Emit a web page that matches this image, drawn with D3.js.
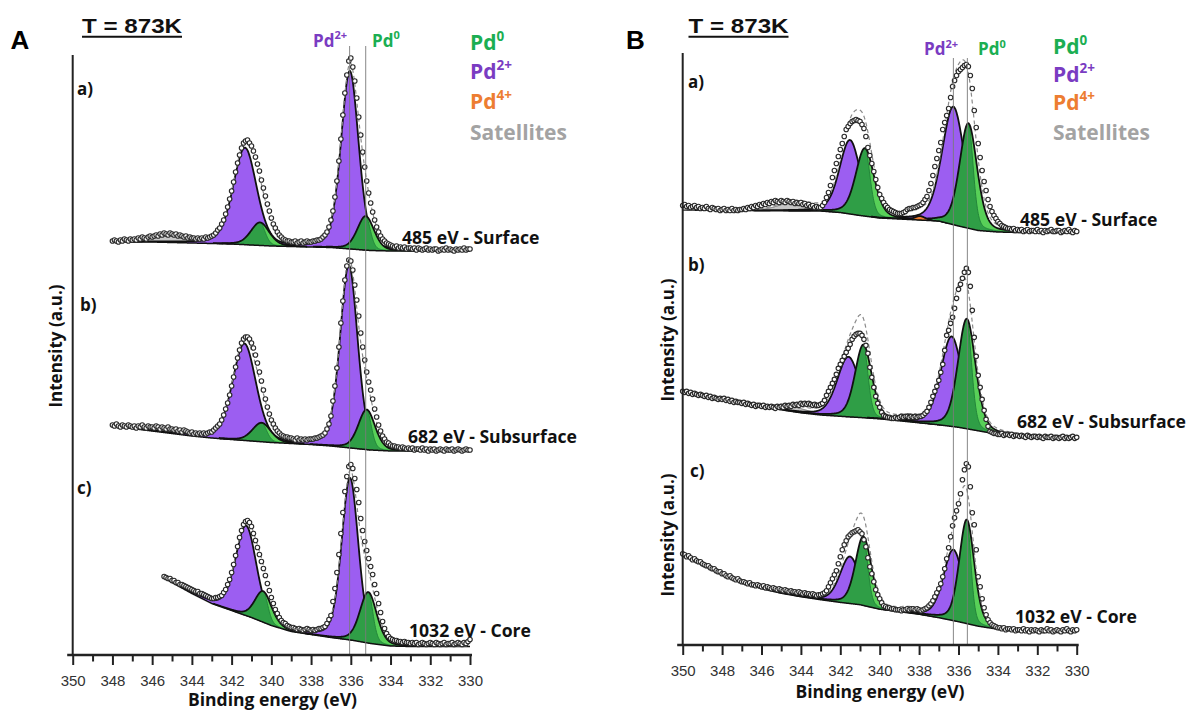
<!DOCTYPE html>
<html>
<head>
<meta charset="utf-8">
<script src="https://cdn.jsdelivr.net/npm/d3@7"></script>
<style>
  body { margin: 0; background: #fff; }
  svg { display: block; }
</style>
</head>
<body>
<svg id="chart" width="1187" height="711"></svg>
<script>
// ---------------------------------------------------------------
// Pd 3d XPS spectra at T = 873 K, three photon energies per panel.
// Intensities are in arbitrary units above each spectrum's own
// baseline; spectra are stacked with a vertical offset.
// ---------------------------------------------------------------

// Binding-energy tick values
const majorTicks = [350, 348, 346, 344, 342, 340, 338, 336, 334, 332, 330];
const minorTicks = [349, 347, 345, 343, 341, 339, 337, 335, 333, 331];

// Background anchors, one value per eV from 350 down to 330
const bgEnergy = d3.range(350, 329, -1);
const bgAa = [10, 10, 9.5, 9, 9, 8.5, 8, 7.5, 7, 6, 5, 4.5, 4, 3.5, 2, 0.5, 0, 0, 0, 0, 0];
const bgAb = [30, 27.5, 25, 22.5, 20, 17.5, 15, 13, 11.5, 10, 8.5, 7.5, 6.5, 5, 3, 1, 0, 0, 0, 0, 0];
const bgAc = [120, 105, 95, 85, 76, 64, 53, 43, 36, 29, 21, 15, 12, 9, 6.5, 3, 0.5, 0, 0, 0, 0];
const bgBa = [22.5, 22.3, 22.1, 22, 21.8, 21.7, 21.5, 21.5, 20, 17, 14.5, 13.5, 12.5, 11.5, 6.5, 2, 0.5, 0, 0, 0, 0];
const bgBb = [46.5, 43, 39.5, 36, 32, 28.5, 25.5, 23.3, 22, 20.8, 19.5, 17.5, 15.5, 13.5, 11, 7.5, 4, 2.5, 1.5, 0.7, 0];
const bgBc = [77, 67, 58, 49.5, 43, 38.5, 35, 32, 29.3, 27, 22.5, 20, 17.5, 14, 10, 5.5, 2.5, 1.2, 0.6, 0.2, 0];

// Fitted components: [species, position (eV), height, FWHM (eV)]
const peaksAa = [["sat", 345.2, 7, 2.4], ["pd2", 341.33, 97, 1.4], ["pd0", 340.57, 23, 1.1], ["pd2", 336.05, 178, 1.05], ["pd0", 335.25, 34, 1.0]];
const peaksAb = [["sat", 345.5, 4, 2.5], ["pd2", 341.36, 97, 1.4], ["pd0", 340.49, 19, 1.1], ["pd2", 336.1, 182.5, 1.05], ["pd0", 335.2, 40, 1.0]];
const peaksAc = [["sat", 344.0, 3, 2.0], ["pd2", 341.27, 90, 1.25], ["pd0", 340.41, 31, 1.0], ["pd2", 336.04, 162, 1.0], ["pd0", 335.12, 51, 1.0]];
const peaksBa = [["sat", 344.3, 9, 1.9], ["pd2", 341.51, 74, 1.25], ["pd0", 340.75, 68, 1.1], ["sat", 338.6, 3, 0.9], ["pd4", 337.95, 4, 0.6], ["pd2", 336.26, 118, 1.35], ["pd0", 335.5, 105, 1.05]];
const peaksBb = [["sat", 344.5, 5, 2.0], ["pd2", 341.59, 60, 1.35], ["pd0", 340.83, 73, 1.0], ["sat", 338.5, 3, 1.0], ["pd2", 336.35, 90, 1.3], ["pd0", 335.58, 110, 1.05]];
const peaksBc = [["sat", 344.5, 4, 2.0], ["pd2", 341.51, 47, 1.2], ["pd0", 340.83, 69, 0.95], ["sat", 338.5, 3, 1.0], ["pd2", 336.26, 71, 1.2], ["pd0", 335.58, 104, 0.9]];

// Measured points, 0.1 eV apart, from the first energy down to 330 eV
const startAa = 348.0;
const dataAa = [
  10, 11, 10, 9, 11, 10, 12, 11, 10, 12, 11,            // 348.0-347.0
  12, 11, 13, 12, 14, 13, 12, 14, 15, 14,               // 346.9-346.0
  15, 16, 15, 17, 16, 18, 17, 16, 18, 17,               // 345.9-345.0
  16, 17, 15, 16, 15, 14, 15, 13, 14, 13,               // 344.9-344.0
  13, 12, 13, 12, 13, 12, 14, 13, 14, 15,               // 343.9-343.0
  16, 18, 21, 23, 27, 31, 37, 44, 52, 60,               // 342.9-342.0
  69, 79, 88, 96, 103, 108, 110, 111, 108, 105,         // 341.9-341.0
  100, 94, 87, 80, 71, 63, 55, 47, 40, 33,              // 340.9-340.0
  27, 23, 19, 16, 14, 12, 11, 10, 10, 9,                // 339.9-339.0
  9, 10, 8, 9, 10, 8, 9, 10, 9, 9,                      // 338.9-338.0
  10, 10, 11, 11, 12, 14, 16, 19, 24, 31,               // 337.9-337.0
  40, 54, 70, 90, 112, 136, 158, 176, 190, 193,         // 336.9-336.0
  184, 170, 153, 134, 116, 99, 84, 70, 58, 48,          // 335.9-335.0
  39, 31, 24, 19, 15, 12, 10, 8, 7, 6,                  // 334.9-334.0
  5, 4, 5, 3, 4, 3, 4, 2, 3, 3,                         // 333.9-333.0
  2, 3, 1, 3, 2, 1, 2, 3, 1, 2,
  1, 2, 2, 0, 1, 2, 1, 3, 1, 2,
  1, 0, 2, 1, 2, 1, 3, 1, 2, 2                          // 330.9-330.0
];
const startAb = 348.0;
const dataAb = [
  26, 25, 27, 25, 24, 26, 25, 24, 26, 25, 24,
  25, 23, 25, 24, 26, 24, 23, 25, 24, 24,
  23, 25, 24, 22, 24, 23, 22, 24, 22, 22,
  21, 22, 20, 21, 19, 21, 20, 19, 18, 19,
  17, 18, 17, 18, 17, 18, 17, 18, 19, 19,
  21, 23, 25, 27, 31, 36, 42, 48, 56, 65,
  74, 84, 93, 101, 108, 112, 114, 114, 112, 108,
  103, 96, 88, 79, 70, 61, 52, 44, 37, 31,
  27, 23, 20, 18, 16, 15, 14, 14, 13, 13,
  12, 11, 13, 11, 12, 11, 12, 11, 12, 12,
  12, 13, 13, 14, 15, 16, 18, 22, 27, 35,
  50, 65, 83, 104, 128, 150, 171, 185, 191, 190,
  181, 166, 151, 135, 118, 104, 91, 79, 69, 61,
  52, 42, 34, 26, 20, 15, 12, 9, 8, 6,
  5, 5, 4, 4, 3, 4, 3, 2, 3, 2,
  3, 1, 2, 2, 1, 3, 1, 2, 0, 2,
  1, 2, 0, 1, 2, 1, 0, 2, 1, 1,
  2, 0, 1, 2, 1, 0, 1, 2, 1, 1
];
const startAc = 345.4;
const dataAc = [
  70, 69, 68, 68, 66,                                   // 345.4-345.0
  66, 64, 64, 62, 62, 61, 60, 59, 58, 57,
  56, 55, 55, 53, 53, 52, 51, 50, 49, 48,
  48, 49, 49, 50, 51, 54, 57, 62, 67, 74,
  82, 91, 100, 109, 116, 122, 125, 126, 124, 120,
  113, 106, 99, 92, 85, 78, 71, 63, 56, 49,
  43, 37, 33, 29, 26, 24, 23, 21, 20, 19,
  19, 18, 17, 18, 17, 16, 17, 18, 17, 16,
  17, 16, 17, 18, 18, 19, 20, 23, 27, 31,
  45, 58, 74, 92, 113, 134, 155, 170, 180, 182,
  178, 168, 157, 144, 128, 116, 105, 96, 88, 80,
  72, 62, 53, 43, 34, 25, 18, 13, 10, 8,
  7, 6, 6, 5, 5, 4, 5, 4, 4, 3,
  4, 3, 4, 2, 3, 4, 3, 2, 3, 4,
  3, 2, 4, 3, 2, 3, 4, 2, 3, 3,
  4, 2, 3, 4, 3, 2, 4, 3, 5, 7
];
const startBa = 350.0;
const dataBa = [
  27, 28, 26, 27, 25, 26, 27, 25, 26, 24,               // 350.0-349.1
  25, 24, 26, 24, 23, 25, 24, 23, 24, 22,
  23, 24, 22, 23, 22, 24, 22, 23, 22, 23,
  23, 24, 23, 25, 24, 26, 25, 27, 26, 28,
  27, 29, 28, 30, 29, 31, 30, 32, 31, 30,
  32, 31, 30, 32, 31, 30, 31, 29, 30, 29,
  30, 28, 29, 27, 28, 26, 27, 25, 26, 25,
  25,                                                   // 343.0
  27, 30, 35, 40, 47, 55, 62, 69, 76, 83,
  89, 96, 103, 106, 109, 111, 112, 113, 112, 111,
  108, 104, 96, 85, 77, 69, 61, 53, 45, 38,
  34, 30, 27, 25, 23, 22, 21, 20, 19, 19,
  19, 20, 21, 23, 24, 24, 25, 25, 26, 27,
  28, 30, 33, 36, 42, 49, 57, 66, 74, 82,
  90, 103, 110, 117, 124, 135, 146, 152, 157, 161,
  163, 165, 167, 168, 166, 157, 144, 122, 105, 89,
  75, 62, 51, 42, 33, 26, 21, 17, 14, 11,
  9, 7, 6, 5, 4, 4, 3, 4, 2, 3,
  2, 3, 1, 2, 3, 1, 2, 2, 1, 3,
  1, 2, 0, 2, 1, 2, 3, 1, 1, 2,
  2, 0, 1, 2, 1, 3, 1, 0, 2, 1
];
const startBb = 350.0;
const dataBb = [
  47, 46, 47, 45, 46, 44, 45, 44, 43, 44,
  43, 42, 43, 41, 42, 40, 41, 40, 39, 40,
  39, 40, 38, 39, 37, 38, 36, 37, 36, 36,
  35, 36, 34, 35, 34, 33, 34, 32, 33, 33,
  32, 33, 31, 32, 31, 32, 31, 30, 32, 31,
  32, 31, 33, 32, 33, 32, 34, 33, 34, 33,
  35, 34, 35, 34, 35, 34, 33, 34, 33, 33,
  34,
  35, 38, 43, 47, 51, 55, 59, 64, 70, 74,
  78, 82, 86, 90, 94, 99, 102, 104, 105, 105,
  103, 99, 93, 85, 71, 61, 51, 42, 35, 31,
  26, 23, 22, 21, 21, 20, 20, 21, 20, 21,
  22, 21, 22, 22, 21, 22, 21, 22, 21, 22,
  22, 23, 25, 27, 31, 36, 42, 47, 52, 58,
  66, 74, 88, 103, 108, 115, 121, 130, 140, 149,
  154, 160, 166, 170, 166, 152, 128, 101, 82, 63,
  51, 39, 28, 19, 12, 7, 6, 5, 5, 4,
  4, 5, 3, 4, 4, 3, 4, 2, 3, 3,
  2, 3, 2, 1, 3, 2, 1, 2, 2, 1,
  2, 1, 0, 2, 1, 1, 2, 0, 1, 1,
  0, 1, 2, 0, 1, 0, 1, 2, 0, 1
];
const startBc = 350.0;
const dataBc = [
  78, 77, 75, 76, 74, 72, 73, 71, 70, 70,
  68, 67, 66, 66, 64, 63, 63, 61, 60, 60,
  58, 58, 56, 55, 56, 54, 53, 52, 53, 51,
  50, 50, 49, 48, 49, 47, 47, 46, 47, 46,
  45, 46, 44, 45, 44, 43, 44, 43, 42, 43,
  42, 41, 42, 41, 40, 41, 40, 40, 39, 40,
  39, 38, 39, 38, 38, 37, 38, 37, 36, 37,
  37,
  38, 39, 41, 45, 49, 53, 57, 61, 68, 75,
  82, 87, 91, 95, 97, 99, 100, 101, 102, 100,
  98, 92, 85, 74, 65, 58, 50, 42, 37, 33,
  29, 26, 25, 24, 24, 23, 23, 22, 22, 22,
  21, 22, 22, 23, 22, 23, 23, 22, 23, 22,
  21, 22, 23, 24, 26, 28, 31, 35, 39, 43,
  48, 55, 63, 73, 84, 95, 106, 114, 121, 128,
  138, 152, 162, 168, 165, 145, 119, 107, 82, 55,
  45, 33, 24, 17, 12, 9, 7, 6, 5, 4,
  4, 3, 4, 2, 3, 3, 2, 3, 1, 2,
  2, 1, 3, 1, 2, 0, 2, 1, 2, 1,
  0, 2, 1, 1, 3, 1, 2, 0, 1, 2,
  1, 0, 2, 1, 3, 1, 0, 2, 1, 2
];

// Vertical stacking offsets of the three spectra in each panel
const offsetsA = [404, 204, 8.5];
const offsetsB = [412.5, 206.7, 13.3];

const spectrumLabels = ["485 eV - Surface", "682 eV - Subsurface", "1032 eV - Core"];
const depthLetters = ["a)", "b)", "c)"];

// ---------------------------------------------------------------
const svg = d3.select("#chart");
const SANS = "'Open Sans', 'DejaVu Sans', sans-serif";
const ARIAL = "'Liberation Sans', Arial, sans-serif";

const COLORS = {
  sat: "#c6c6c6", pd2: "#9c5ef1", pd0Light: "#58d058", pd0Dark: "#2f9e46",
  pd4: "#ee7d2f", txtPd0: "#1bae52", txtPd2: "#7a3cc2", txtPd4: "#ed7d31", txtSat: "#a3a3a3"
};

// Pseudo-Voigt (GL30) line shape; wRight narrows the low-BE side
function pv(e, c, h, w, wRight) {
  const width = (e < c && wRight !== undefined) ? wRight : w;
  const u = (e - c) / width;
  return h * (0.3 / (1 + 4 * u * u) + 0.7 * Math.exp(-4 * Math.LN2 * u * u));
}

function drawSpectrum(g, xs, ys, start, data, bgVals, peaks, offset) {
  const bg = d3.scaleLinear().domain(bgEnergy).range(bgVals);
  const base = e => offset + bg(e);
  const grid = d3.range(Math.round(start * 50), 330 * 50 - 1, -1).map(k => k / 50);

  const drawOrder = ["sat", "pd2", "pd0", "pd4"];
  drawOrder.forEach(type => {
    peaks.filter(p => p[0] === type).forEach(([t, c, h, w]) => {
      const seg = grid.filter(e => pv(e, c, h, w) > 0.35);
      const top = e => ys(base(e) + pv(e, c, h, w));
      const area = d3.area().x(e => xs(e)).y0(e => ys(base(e))).y1(top);
      const line = d3.line().x(e => xs(e)).y(top);
      if (t === "pd0") {
        g.append("path").attr("d", area(seg)).attr("fill", COLORS.pd0Light);
        const topDark = e => ys(base(e) + pv(e, c, h, w, w * 0.55));
        g.append("path")
          .attr("d", d3.area().x(e => xs(e)).y0(e => ys(base(e))).y1(topDark)(seg))
          .attr("fill", COLORS.pd0Dark);
        g.append("path")
          .attr("d", d3.line().x(e => xs(e)).y(topDark)(seg.filter(e => e <= c)))
          .attr("fill", "none").attr("stroke", "#23863a").attr("stroke-width", 1);
        g.append("path").attr("d", line(seg)).attr("fill", "none")
          .attr("stroke", "#111").attr("stroke-width", 1.8);
      } else if (t === "sat") {
        g.append("path").attr("d", area(seg)).attr("fill", COLORS.sat);
        g.append("path").attr("d", line(seg)).attr("fill", "none")
          .attr("stroke", "#666").attr("stroke-width", 0.9);
      } else {
        g.append("path").attr("d", area(seg)).attr("fill", COLORS[t]);
        g.append("path").attr("d", line(seg)).attr("fill", "none")
          .attr("stroke", "#111").attr("stroke-width", 1.8);
      }
    });
  });

  // background
  g.append("path")
    .attr("d", d3.line().x(e => xs(e)).y(e => ys(base(e)))(grid))
    .attr("fill", "none").attr("stroke", "#111").attr("stroke-width", 1.5);

  // envelope (sum of components)
  const env = e => base(e) + d3.sum(peaks, p => pv(e, p[1], p[2], p[3]));
  g.append("path")
    .attr("d", d3.line().x(e => xs(e)).y(e => ys(env(e)))(grid))
    .attr("fill", "none").attr("stroke", "#8a8a8a").attr("stroke-width", 1.2)
    .attr("stroke-dasharray", "4,3");

  // measured points
  const pts = data.map((v, i) => ({ e: (Math.round(start * 10) - i) / 10, v }));
  g.selectAll(null).data(pts).enter().append("circle")
    .attr("cx", d => xs(d.e)).attr("cy", d => ys(offset + d.v))
    .attr("r", 2.25).attr("fill", "#fff").attr("stroke", "#2a2a2a").attr("stroke-width", 1.15);
}

function supText(g, x, y, main, sup, color, size, supSize, anchor) {
  const t = g.append("text").attr("x", x).attr("y", y)
    .attr("font-family", SANS).attr("font-weight", 700).attr("font-size", size)
    .attr("fill", color).attr("text-anchor", anchor || "start");
  t.append("tspan").text(main);
  if (sup) t.append("tspan").attr("font-size", supSize).attr("dy", -size * 0.42).text(sup);
  return t;
}

function drawPanel(cfg) {
  const g = svg.append("g");
  const xs = d3.scaleLinear().domain([350, 330]).range([cfg.x0, cfg.x1]);
  const ys = d3.scaleLinear().domain([0, cfg.yMax]).range([cfg.axisY, cfg.axisY - cfg.yMax]);

  cfg.spectra.forEach((s, i) => drawSpectrum(g, xs, ys, s.start, s.data, s.bg, s.peaks, cfg.offsets[i]));

  // reference lines at the Pd2+ and Pd0 3d5/2 positions
  cfg.refLines.forEach(e => {
    g.append("line").attr("x1", xs(e)).attr("x2", xs(e))
      .attr("y1", cfg.refTop).attr("y2", cfg.axisY - 1)
      .attr("stroke", "#7a7a7a").attr("stroke-width", 0.9);
  });

  // axes
  g.append("line").attr("x1", xs(350)).attr("x2", xs(350))
    .attr("y1", ys(cfg.yMax)).attr("y2", cfg.axisY)
    .attr("stroke", "#222").attr("stroke-width", 2);
  g.append("line").attr("x1", xs(350) - 5.5).attr("x2", xs(330) + 2)
    .attr("y1", cfg.axisY).attr("y2", cfg.axisY)
    .attr("stroke", "#222").attr("stroke-width", 2.6);

  const major = g.append("g").attr("transform", `translate(0,${cfg.axisY})`)
    .call(d3.axisBottom(xs).tickValues(majorTicks).tickSize(10).tickPadding(10).tickFormat(d3.format("d")));
  const minor = g.append("g").attr("transform", `translate(0,${cfg.axisY})`)
    .call(d3.axisBottom(xs).tickValues(minorTicks).tickSize(6.5).tickFormat(""));
  [major, minor].forEach(a => {
    a.select(".domain").remove();
    a.selectAll(".tick line").attr("stroke", "#222").attr("stroke-width", 2);
  });
  major.selectAll(".tick text").attr("font-family", ARIAL).attr("font-size", 15).attr("fill", "#333");

  g.append("text").attr("x", cfg.xTitle).attr("y", cfg.titleY)
    .attr("text-anchor", "middle").attr("font-family", SANS).attr("font-weight", 700)
    .attr("font-size", 17.5).attr("fill", "#111").text("Binding energy (eV)");

  cfg.yTitles.forEach(([xp, yp]) => {
    g.append("text").attr("transform", `translate(${xp},${yp}) rotate(-90)`)
      .attr("text-anchor", "middle").attr("dominant-baseline", "central")
      .attr("font-family", SANS).attr("font-weight", 700).attr("font-size", 17)
      .attr("fill", "#111").text("Intensity (a.u.)");
  });

  // panel letter and temperature
  g.append("text").attr("x", cfg.letterX).attr("y", 48.5).attr("font-family", ARIAL)
    .attr("font-weight", 700).attr("font-size", 26).attr("fill", "#000").text(cfg.letter);
  g.append("text").attr("x", cfg.titleX).attr("y", 33.3).attr("font-family", ARIAL)
    .attr("font-weight", 700).attr("font-size", 20).attr("fill", "#111")
    .attr("textLength", 100).attr("lengthAdjust", "spacingAndGlyphs").text("T = 873K");
  g.append("line").attr("x1", cfg.titleX).attr("x2", cfg.titleX + 100)
    .attr("y1", 36.8).attr("y2", 36.8).attr("stroke", "#111").attr("stroke-width", 2);

  // depth letters and photon-energy labels
  cfg.letters.forEach(([xp, yp], i) => {
    g.append("text").attr("x", xp).attr("y", yp).attr("font-family", SANS)
      .attr("font-weight", 700).attr("font-size", 17).attr("fill", "#111").text(depthLetters[i]);
  });
  cfg.labels.forEach(([xp, yp], i) => {
    g.append("text").attr("x", xp).attr("y", yp).attr("font-family", SANS)
      .attr("font-weight", 700).attr("font-size", 17.6).attr("fill", "#111").text(spectrumLabels[i]);
  });

  // labels above the reference lines
  supText(g, cfg.pdLabel[0], cfg.pdLabel[2], "Pd", "2+", COLORS.txtPd2, 17, 11, "end");
  supText(g, cfg.pdLabel[1], cfg.pdLabel[2], "Pd", "0", COLORS.txtPd0, 17, 11, "start");

  // legend
  const legendItems = [["Pd", "0", COLORS.txtPd0], ["Pd", "2+", COLORS.txtPd2], ["Pd", "4+", COLORS.txtPd4], ["Satellites", "", COLORS.txtSat]];
  legendItems.forEach(([m, s, c], i) => {
    supText(g, cfg.legendX, cfg.legendY[i], m, s, c, 21, 13.5, "start");
  });
}

drawPanel({
  letter: "A", letterX: 10.5, titleX: 82,
  x0: 72.7, x1: 470, axisY: 655, yMax: 600, xTitle: 272.5, titleY: 706,
  offsets: offsetsA,
  spectra: [
    { start: startAa, data: dataAa, bg: bgAa, peaks: peaksAa },
    { start: startAb, data: dataAb, bg: bgAb, peaks: peaksAb },
    { start: startAc, data: dataAc, bg: bgAc, peaks: peaksAc }
  ],
  refLines: [336.06, 335.25], refTop: 46,
  yTitles: [[55, 346]],
  letters: [[77, 95], [80, 311], [77, 494]],
  labels: [[402, 243.5], [408, 443], [409, 636.5]],
  pdLabel: [347, 372, 46.5],
  legendX: 470, legendY: [50, 78.5, 108.5, 139.5]
});

drawPanel({
  letter: "B", letterX: 626, titleX: 688.5,
  x0: 682.7, x1: 1076.7, axisY: 645, yMax: 592, xTitle: 880, titleY: 698,
  offsets: offsetsB,
  spectra: [
    { start: startBa, data: dataBa, bg: bgBa, peaks: peaksBa },
    { start: startBb, data: dataBb, bg: bgBb, peaks: peaksBb },
    { start: startBc, data: dataBc, bg: bgBc, peaks: peaksBc }
  ],
  refLines: [336.26, 335.55], refTop: 58,
  yTitles: [[667, 340], [667, 535]],
  letters: [[688, 88], [688, 271], [690, 477]],
  labels: [[1020, 226], [1017, 428], [1015, 623]],
  pdLabel: [958, 978, 55],
  legendX: 1053, legendY: [54, 81.5, 110, 140]
});
</script>
</body>
</html>
